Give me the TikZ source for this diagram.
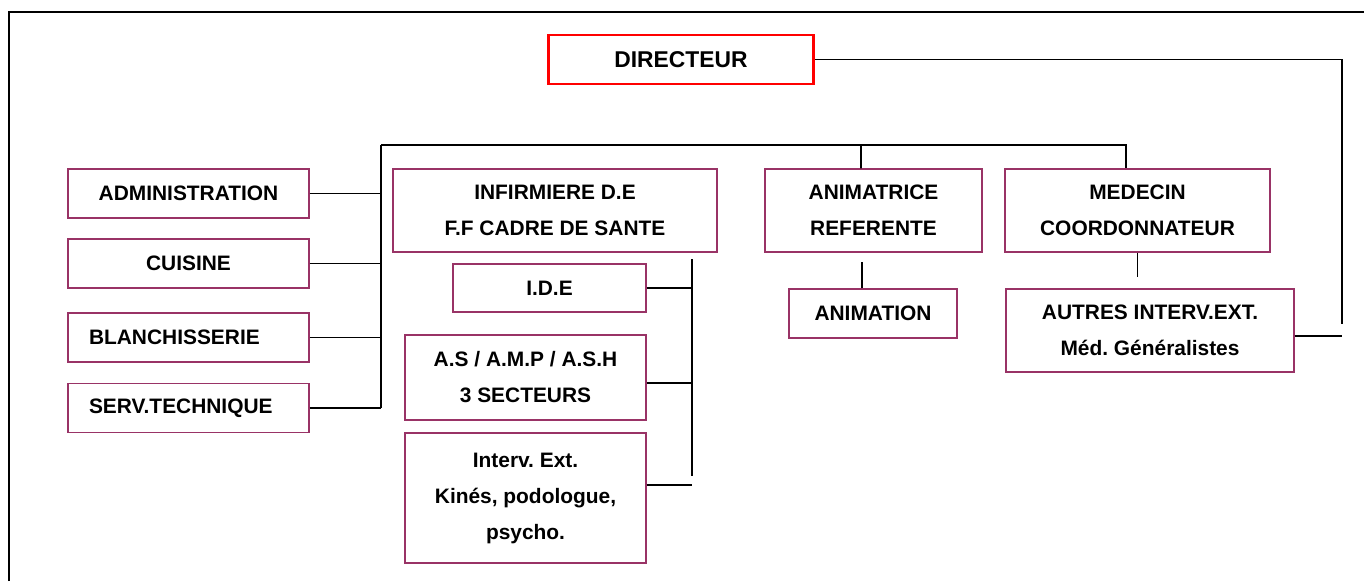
\documentclass[tikz,border=0pt]{standalone}
\usepackage{fontspec}
\setmainfont{Liberation Sans}
\usepackage{tikz}
\definecolor{boxplum}{RGB}{153,51,102}
\frenchspacing

\begin{document}
\begin{tikzpicture}[
    x=0.02cm, y=-0.02cm,
    unit/.style   = {draw=boxplum, line width=0.8pt, align=center, inner sep=0pt,
                     font=\fontsize{11.9}{20.5}\selectfont\bfseries},
    leftunit/.style = {unit, minimum width=4.82cm, minimum height=0.98cm},
    boss/.style   = {draw=red, line width=1.7pt, minimum width=5.32cm, minimum height=0.98cm,
                     inner sep=0pt, font=\fontsize{13}{15}\selectfont\bfseries},
    link/.style   = {line width=1.1pt}
  ]
    \useasboundingbox (0,0) rectangle (1364,581);

    %% ---- frame ----
    \draw[link] (9,581) -- (9,12) -- (1364,12);

    %% ---- director ----
    \node[boss] (dir) at (681,59.5) {DIRECTEUR};

    %% ---- services on the left ----
    \node[leftunit] (admin)   at (188.5,193.5) {ADMINISTRATION};
    \node[leftunit] (cuisine) at (188.5,263.5) {CUISINE};
    \node[leftunit, text width=3.98cm, inner xsep=0.42cm, align=left] (blanch) at (188.5,337.5) {BLANCHISSERIE};
    \node[leftunit, text width=3.98cm, inner xsep=0.42cm, align=left] (serv)   at (188.5,408)   {SERV.TECHNIQUE};

    %% ---- heads of the care staff ----
    \node[unit, minimum width=6.48cm, minimum height=1.66cm] (inf)  at (555,210.5)    {INFIRMIERE D.E\\F.F CADRE DE SANTE};
    \node[unit, minimum width=4.34cm, minimum height=1.66cm] (anim) at (873.5,210.5)  {ANIMATRICE\\REFERENTE};
    \node[unit, minimum width=5.30cm, minimum height=1.66cm] (med)  at (1137.5,210.5) {MEDECIN\\COORDONNATEUR};

    %% ---- teams ----
    \node[unit, minimum width=3.86cm, minimum height=0.96cm] (ide)    at (549.5,288)  {I.D.E};
    \node[unit, minimum width=4.82cm, minimum height=1.70cm] (as)     at (525.5,377.5) {A.S / A.M.P / A.S.H\\3 SECTEURS};
    \node[unit, minimum width=4.82cm, minimum height=2.60cm] (interv) at (525.5,498)  {Interv. Ext.\\Kinés, podologue,\\psycho.};
    \node[unit, minimum width=3.36cm, minimum height=0.98cm] (animation) at (873,313.5) {ANIMATION};
    \node[unit, minimum width=5.76cm, minimum height=1.66cm] (autres) at (1150,330.5) {AUTRES INTERV.EXT.\\Méd. Généralistes};

    %% ---- connectors ----
    \coordinate (bus) at (381,145);
    \coordinate (rt)  at (1342,324);
    \coordinate (vt)  at (692,259);

    \draw[link] (dir.east) -| (rt);
    \draw[link] ([yshift=-0.11cm]autres.east) -- ([yshift=-0.11cm]autres.east -| rt);

    \draw[link] (bus) -- (bus |- serv.east);
    \draw[link] (bus) -| ([xshift=-0.23cm]med.north);
    \draw[link] (bus -| 861,0) -- ([xshift=-0.25cm]anim.north);
    \foreach \n in {admin, cuisine, blanch, serv}
      \draw[link] (\n.east) -- (\n.east -| bus);

    \draw[link] ([xshift=-0.22cm]animation.north) -- ++(0,-26);
    \draw[link] (med.south) -- ++(0,24);

    \draw[link] (vt) -- ++(0,217);
    \draw[link] (ide.east) -- (ide.east -| vt);
    \draw[link] ([yshift=-0.11cm]as.east) -- ([yshift=-0.11cm]as.east -| vt);
    \draw[link] ([yshift=0.26cm]interv.east) -- ([yshift=0.26cm]interv.east -| vt);
  \end{tikzpicture}
\end{document}
